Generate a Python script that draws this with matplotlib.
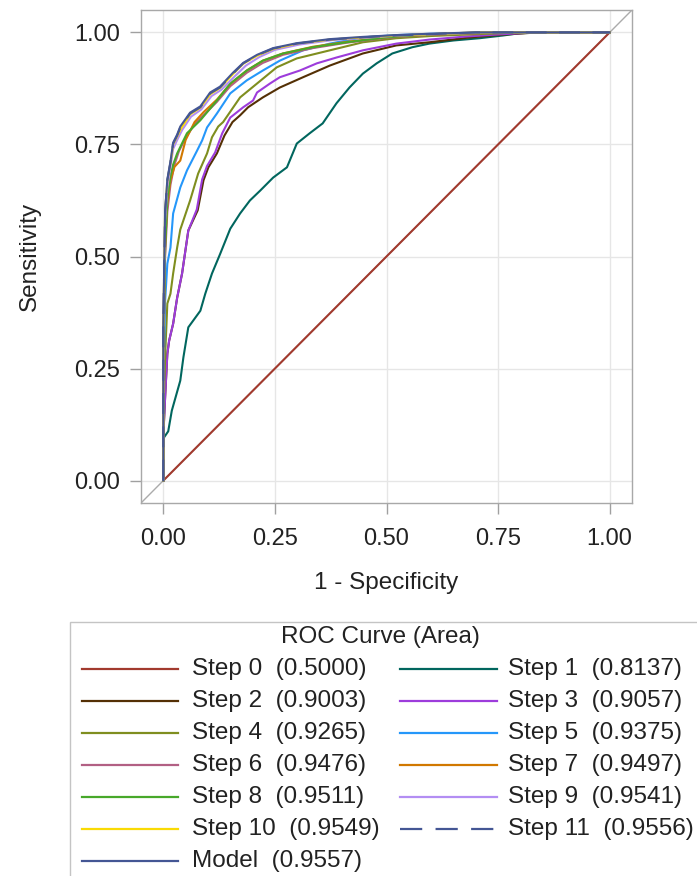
import matplotlib
matplotlib.use("Agg")
import matplotlib.pyplot as plt
from matplotlib.lines import Line2D
from matplotlib.patches import Rectangle

plt.rcParams['font.family'] = ['Liberation Sans', 'DejaVu Sans']

# ---------------- data ----------------
labels = ["Step 0", "Step 1", "Step 2", "Step 3", "Step 4", "Step 5", "Step 6",
          "Step 7", "Step 8", "Step 9", "Step 10", "Step 11", "Model"]
areas = [0.5000, 0.8137, 0.9003, 0.9057, 0.9265, 0.9375, 0.9476,
         0.9497, 0.9511, 0.9541, 0.9549, 0.9556, 0.9557]

step0_fpr = [0, 1]
step0_tpr = [0, 1]

step1_fpr = [0, 0.000, 0.011, 0.019, 0.038, 0.045, 0.056, 0.083, 0.094, 0.109, 0.127, 0.150,
             0.172, 0.194, 0.217, 0.246, 0.277, 0.299, 0.328, 0.357, 0.388, 0.417, 0.447,
             0.478, 0.513, 0.558, 0.596, 0.650, 0.708, 0.760, 0.797, 0.840, 1.0]
step1_tpr = [0, 0.094, 0.110, 0.156, 0.223, 0.275, 0.342, 0.379, 0.417, 0.462, 0.505, 0.562,
             0.596, 0.625, 0.647, 0.676, 0.699, 0.752, 0.775, 0.797, 0.842, 0.877, 0.908,
             0.931, 0.953, 0.967, 0.975, 0.982, 0.987, 0.993, 0.998, 1.0, 1.0]

step2_fpr = [0, 0.000, 0.004, 0.009, 0.013, 0.022, 0.031, 0.042, 0.056, 0.077, 0.090, 0.101,
             0.120, 0.137, 0.155, 0.172, 0.190, 0.223, 0.261, 0.313, 0.373, 0.447, 0.522,
             0.596, 0.680, 0.760, 0.840, 1.0]
step2_tpr = [0, 0.100, 0.185, 0.283, 0.312, 0.350, 0.408, 0.462, 0.558, 0.603, 0.670, 0.699,
             0.730, 0.770, 0.800, 0.815, 0.833, 0.855, 0.877, 0.900, 0.926, 0.953, 0.971,
             0.978, 0.988, 0.995, 1.0, 1.0]

step3_fpr = [0, 0.000, 0.004, 0.009, 0.013, 0.022, 0.031, 0.042, 0.056, 0.075, 0.087, 0.098,
             0.116, 0.132, 0.150, 0.179, 0.201, 0.210, 0.239, 0.261, 0.306, 0.344, 0.388,
             0.447, 0.522, 0.596, 0.680, 0.760, 0.830, 1.0]
step3_tpr = [0, 0.100, 0.185, 0.283, 0.312, 0.350, 0.408, 0.462, 0.558, 0.605, 0.672, 0.702,
             0.732, 0.775, 0.810, 0.833, 0.848, 0.866, 0.886, 0.900, 0.915, 0.931, 0.944,
             0.960, 0.975, 0.984, 0.991, 0.996, 1.0, 1.0]

step4_fpr = [0, 0.000, 0.005, 0.009, 0.016, 0.022, 0.031, 0.038, 0.060, 0.078, 0.098, 0.109,
             0.123, 0.134, 0.172, 0.210, 0.254, 0.299, 0.373, 0.447, 0.522, 0.600, 0.700,
             0.800, 1.0]
step4_tpr = [0, 0.150, 0.300, 0.395, 0.417, 0.462, 0.520, 0.560, 0.625, 0.685, 0.730, 0.766,
             0.790, 0.800, 0.855, 0.886, 0.922, 0.942, 0.960, 0.978, 0.987, 0.992, 0.996,
             1.0, 1.0]

step5_fpr = [0, 0.000, 0.004, 0.009, 0.016, 0.022, 0.038, 0.053, 0.075, 0.087, 0.098, 0.120,
             0.150, 0.187, 0.223, 0.261, 0.313, 0.373, 0.447, 0.522, 0.600, 0.700, 0.780, 1.0]
step5_tpr = [0, 0.200, 0.400, 0.484, 0.520, 0.596, 0.654, 0.692, 0.735, 0.759, 0.788, 0.819,
             0.864, 0.893, 0.915, 0.937, 0.960, 0.975, 0.989, 0.994, 0.997, 0.999, 1.0, 1.0]

step6_fpr = [0, 0.000, 0.004, 0.009, 0.016, 0.025, 0.035, 0.050, 0.070, 0.090, 0.120, 0.150,
             0.187, 0.223, 0.268, 0.335, 0.411, 0.500, 0.600, 0.700, 0.760, 1.0]
step6_tpr = [0, 0.250, 0.500, 0.600, 0.660, 0.705, 0.735, 0.765, 0.795, 0.815, 0.845, 0.880,
             0.910, 0.932, 0.950, 0.965, 0.977, 0.988, 0.995, 0.998, 1.0, 1.0]

step7_fpr = [0, 0.000, 0.004, 0.009, 0.016, 0.025, 0.038, 0.050, 0.070, 0.090, 0.120, 0.150,
             0.187, 0.223, 0.268, 0.335, 0.411, 0.500, 0.600, 0.700, 0.750, 1.0]
step7_tpr = [0, 0.280, 0.520, 0.620, 0.670, 0.700, 0.714, 0.760, 0.800, 0.822, 0.850, 0.885,
             0.915, 0.937, 0.953, 0.968, 0.979, 0.989, 0.996, 0.999, 1.0, 1.0]

step8_fpr = [0, 0.000, 0.004, 0.009, 0.016, 0.022, 0.031, 0.053, 0.083, 0.120, 0.150, 0.187,
             0.223, 0.268, 0.335, 0.411, 0.500, 0.600, 0.700, 0.740, 1.0]
step8_tpr = [0, 0.300, 0.520, 0.630, 0.680, 0.705, 0.730, 0.775, 0.804, 0.848, 0.886, 0.915,
             0.937, 0.953, 0.967, 0.978, 0.989, 0.996, 0.999, 1.0, 1.0]

step9_fpr = [0, 0.000, 0.004, 0.009, 0.016, 0.022, 0.031, 0.042, 0.062, 0.085, 0.108, 0.130,
             0.160, 0.185, 0.215, 0.250, 0.305, 0.380, 0.450, 0.530, 0.600, 0.720, 1.0]
step9_tpr = [0, 0.340, 0.580, 0.655, 0.700, 0.740, 0.760, 0.782, 0.812, 0.828, 0.858, 0.872,
             0.902, 0.926, 0.945, 0.961, 0.973, 0.983, 0.988, 0.993, 0.996, 1.0, 1.0]

step10_fpr = [0, 0.000, 0.004, 0.009, 0.016, 0.022, 0.031, 0.040, 0.060, 0.083, 0.105, 0.127,
              0.156, 0.179, 0.210, 0.246, 0.299, 0.373, 0.447, 0.520, 0.596, 0.700, 1.0]
step10_tpr = [0, 0.350, 0.600, 0.668, 0.708, 0.750, 0.768, 0.786, 0.817, 0.832, 0.862, 0.876,
              0.907, 0.930, 0.948, 0.963, 0.975, 0.984, 0.989, 0.993, 0.996, 1.0, 1.0]

step11_fpr = [0, 0.000, 0.004, 0.009, 0.016, 0.022, 0.031, 0.038, 0.060, 0.083, 0.105, 0.127,
              0.156, 0.179, 0.210, 0.246, 0.299, 0.373, 0.447, 0.520, 0.596, 0.700, 1.0]
step11_tpr = [0, 0.350, 0.600, 0.670, 0.710, 0.752, 0.770, 0.788, 0.819, 0.833, 0.864, 0.877,
              0.908, 0.931, 0.949, 0.964, 0.975, 0.984, 0.989, 0.993, 0.996, 1.0, 1.0]

model_fpr = [0, 0.000, 0.004, 0.009, 0.016, 0.022, 0.031, 0.038, 0.060, 0.083, 0.105, 0.127,
             0.156, 0.179, 0.210, 0.246, 0.299, 0.373, 0.447, 0.520, 0.596, 0.700, 1.0]
model_tpr = [0, 0.350, 0.600, 0.672, 0.712, 0.754, 0.772, 0.790, 0.821, 0.835, 0.866, 0.879,
             0.910, 0.932, 0.950, 0.965, 0.976, 0.985, 0.990, 0.994, 0.997, 1.0, 1.0]

curves_fpr = [step0_fpr, step1_fpr, step2_fpr, step3_fpr, step4_fpr, step5_fpr, step6_fpr,
              step7_fpr, step8_fpr, step9_fpr, step10_fpr, step11_fpr, model_fpr]
curves_tpr = [step0_tpr, step1_tpr, step2_tpr, step3_tpr, step4_tpr, step5_tpr, step6_tpr,
              step7_tpr, step8_tpr, step9_tpr, step10_tpr, step11_tpr, model_tpr]

ticks = [0.0, 0.25, 0.5, 0.75, 1.0]
tick_labels = ["0.00", "0.25", "0.50", "0.75", "1.00"]

# SAS HTMLBlue style colours
colors = ["#A23A2E", "#01665E", "#543005", "#9D3CDB", "#7F8E1F", "#2597FA", "#B26084",
          "#D17800", "#47A82A", "#B38EF3", "#F9DA04", "#445694", "#445694"]
styles = ["-"] * 11 + [(0, (10, 6))] + ["-"]

W, H = 697, 876
TXT = "#222222"


def fx(px):
    return px / W


def fy(py):
    return 1 - py / H


fig = plt.figure(figsize=(W / 100, H / 100), dpi=100)
ax = fig.add_axes([fx(141), fy(503), fx(632) - fx(141), fy(10) - fy(503)])

ax.set_xlim(-0.05, 1.05)
ax.set_ylim(-0.05, 1.05)
ax.grid(True, color="#E6E6E6", lw=1)
ax.set_axisbelow(True)

# reference diagonal across the whole frame
ax.plot([-0.05, 1.05], [-0.05, 1.05], color="#ABABAB", lw=1, zorder=1)

for i in range(len(labels)):
    ax.plot(curves_fpr[i], curves_tpr[i], color=colors[i], ls=styles[i], lw=1.5, zorder=2 + i)

ax.set_xticks(ticks)
ax.set_xticklabels(tick_labels)
ax.set_yticks(ticks)
ax.set_yticklabels(tick_labels)
ax.tick_params(axis="both", colors="#A0A0A0", labelcolor=TXT, labelsize=17, length=8, width=1)
ax.tick_params(axis="x", pad=10)
ax.tick_params(axis="y", pad=7)
for s in ax.spines.values():
    s.set_color("#A8A8A8")
    s.set_linewidth(1)

ax.set_xlabel("1 - Specificity", fontsize=17.5, color=TXT, labelpad=16)
ax.set_ylabel("Sensitivity", fontsize=17.5, color=TXT, labelpad=24)

# legend box (runs off the right and bottom edge like the reference)
fig.patches.append(Rectangle((fx(70), fy(900)), fx(720) - fx(70), fy(622) - fy(900),
                             transform=fig.transFigure, fill=False, ec="#C4C4C4", lw=1))
fig.text(fx(380), fy(637), "ROC Curve (Area)", ha="center", va="center", fontsize=17.5, color=TXT)

col_line = [(82, 178), (400, 497)]
col_text = [192, 508]
for i, lab in enumerate(labels):
    row, col = divmod(i, 2)
    y = 669 + row * 32
    x0, x1 = col_line[col]
    fig.lines.append(Line2D([fx(x0), fx(x1)], [fy(y), fy(y)], transform=fig.transFigure,
                            color=colors[i], ls=styles[i], lw=1.6))
    fig.text(fx(col_text[col]), fy(y), f"{lab}  ({areas[i]:.4f})", ha="left", va="center",
             fontsize=17.5, color=TXT)

fig.savefig("out.png", dpi=100)
